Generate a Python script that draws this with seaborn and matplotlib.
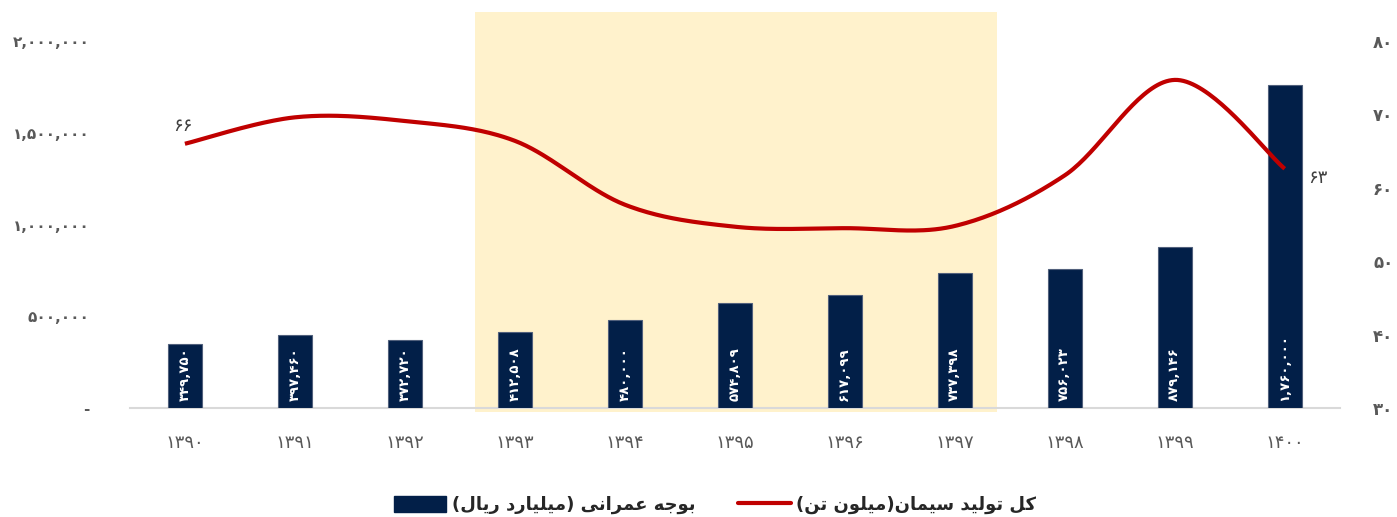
import numpy as np
import matplotlib.pyplot as plt
import seaborn as sns
from matplotlib.patches import Patch
from matplotlib.lines import Line2D

# -----------------------------
# DATA
# -----------------------------
years = ["1390", "1391", "1392", "1393", "1394", "1395", "1396", "1397", "1398", "1399", "1400"]
budget = [349750, 397460, 372720, 412508, 480000, 574809, 617099, 737398, 756023, 879146, 1760000]
cement = [66.0, 69.6, 69.1, 66.4, 57.7, 54.7, 54.5, 54.8, 61.7, 74.7, 62.6]
left_ticks = [0, 500000, 1000000, 1500000, 2000000]
right_ticks = [30, 40, 50, 60, 70, 80]
budget_label = "بوجه عمرانی (میلیارد ریال)"
cement_label = "کل تولید سیمان(میلون تن)"

NAVY = "#021f48"
RED = "#c00000"
SHADE = "#fff2cc"
GRAY = "#595959"

FA_DIGITS = str.maketrans("0123456789", "۰۱۲۳۴۵۶۷۸۹")


def fa_num(v):
    return f"{v:,}".translate(FA_DIGITS)


# simple persian shaping (matplotlib has no RTL / joining support)
# letter: (isolated, final, initial, medial) ; two entries -> joins only to the right
FORMS = {
    "ا": ("\uFE8D", "\uFE8E"), "د": ("\uFEA9", "\uFEAA"), "ر": ("\uFEAD", "\uFEAE"),
    "و": ("\uFEED", "\uFEEE"),
    "ب": ("\uFE8F", "\uFE90", "\uFE91", "\uFE92"), "ت": ("\uFE95", "\uFE96", "\uFE97", "\uFE98"),
    "ج": ("\uFE9D", "\uFE9E", "\uFE9F", "\uFEA0"), "س": ("\uFEB1", "\uFEB2", "\uFEB3", "\uFEB4"),
    "ع": ("\uFEC9", "\uFECA", "\uFECB", "\uFECC"), "ل": ("\uFEDD", "\uFEDE", "\uFEDF", "\uFEE0"),
    "م": ("\uFEE1", "\uFEE2", "\uFEE3", "\uFEE4"), "ن": ("\uFEE5", "\uFEE6", "\uFEE7", "\uFEE8"),
    "ه": ("\uFEE9", "\uFEEA", "\uFEEB", "\uFEEC"), "ی": ("\uFBFC", "\uFBFD", "\uFBFE", "\uFBFF"),
    "ک": ("\uFB8E", "\uFB8F", "\uFB90", "\uFB91"),
}


def shape(text):
    out = []
    for i, ch in enumerate(text):
        if ch not in FORMS:
            out.append(ch)
            continue
        prev = text[i - 1] if i > 0 else ""
        nxt = text[i + 1] if i + 1 < len(text) else ""
        join_prev = prev in FORMS and len(FORMS[prev]) == 4
        join_next = len(FORMS[ch]) == 4 and nxt in FORMS
        f = FORMS[ch]
        if join_prev and join_next:
            out.append(f[3])
        elif join_prev:
            out.append(f[1])
        elif join_next:
            out.append(f[2])
        else:
            out.append(f[0])
    vis = "".join(reversed(out))
    return vis.translate(str.maketrans("()", ")("))


def smooth(xs, ys, n=40):
    # catmull-rom curve through the points (like excel's smoothed line)
    px = np.r_[xs[0], xs, xs[-1]]
    py = np.r_[ys[0], ys, ys[-1]]
    cx, cy = [], []
    t = np.linspace(0, 1, n)
    for i in range(1, len(px) - 2):
        for p, c in ((px, cx), (py, cy)):
            p0, p1, p2, p3 = p[i - 1], p[i], p[i + 1], p[i + 2]
            c.extend(0.5 * (2 * p1 + (-p0 + p2) * t + (2 * p0 - 5 * p1 + 4 * p2 - p3) * t ** 2
                            + (-p0 + 3 * p1 - 3 * p2 + p3) * t ** 3))
    return np.array(cx), np.array(cy)


# -----------------------------
# PLOT
# -----------------------------
sns.set_style("white")
plt.rcParams["font.family"] = ["DejaVu Sans"]

fig = plt.figure(figsize=(13.97, 5.17), dpi=100)
ax = fig.add_axes([0.093, 0.2108, 0.866, 0.7099])

sns.barplot(x=years, y=budget, color=NAVY, width=0.31, saturation=1,
            edgecolor="#51607c", linewidth=0.8, ax=ax, zorder=3)

span = ax.axvspan(2.64, 7.38, ymin=-0.01, ymax=1.079, color=SHADE, zorder=0, lw=0)
span.set_clip_on(False)

ax.set_xlim(-0.5, 10.5)
ax.set_ylim(0, 2000000)
ax.set_yticks(left_ticks)
ax.set_yticklabels(["-" if v == 0 else fa_num(v) for v in left_ticks],
                   fontsize=11, fontweight="bold", color=GRAY)
ax.set_xticks(range(len(years)))
ax.set_xticklabels([y.translate(FA_DIGITS) for y in years], fontsize=13, color=GRAY)
ax.tick_params(axis="y", length=0, pad=29)
ax.tick_params(axis="x", length=0, pad=19)
ax.set_xlabel("")
ax.set_ylabel("")
for s in ["top", "left", "right"]:
    ax.spines[s].set_visible(False)
ax.spines["bottom"].set_color("#d9d9d9")
ax.spines["bottom"].set_linewidth(1.5)

# labels inside bars
for i, v in enumerate(budget):
    ax.text(i, 40000, fa_num(v), rotation=90, ha="center", va="bottom",
            color="white", fontsize=9.5, fontweight="bold", zorder=4)

# cement production line
ax2 = ax.twinx()
xs, ys = smooth(np.arange(len(cement), dtype=float), np.array(cement))
ax2.plot(xs, ys, color=RED, lw=3, solid_capstyle="butt", zorder=5)
ax2.set_ylim(30, 80)
ax2.set_yticks(right_ticks)
ax2.set_yticklabels([str(v).translate(FA_DIGITS) for v in right_ticks],
                    fontsize=12, fontweight="bold", color=GRAY)
ax2.tick_params(axis="y", length=0, pad=24)
for s in ax2.spines.values():
    s.set_visible(False)

ax2.annotate(str(round(cement[0])).translate(FA_DIGITS), (0, cement[0]),
             xytext=(-1.5, 13), textcoords="offset points", ha="center", va="center",
             fontsize=13, color="#404040")
ax2.annotate(str(round(cement[-1])).translate(FA_DIGITS), (10, cement[-1]),
             xytext=(24, -6.5), textcoords="offset points", ha="center", va="center",
             fontsize=13, color="#404040")

# legend
handles = [Patch(facecolor=NAVY, edgecolor=NAVY),
           Line2D([0], [0], color=RED, lw=3)]
fig.legend(handles, [shape(budget_label), shape(cement_label)],
           loc="center", bbox_to_anchor=(715 / 1397, 1 - 505 / 517), ncol=2,
           frameon=False, prop={"size": 13, "weight": "bold"}, labelcolor="#262626",
           handlelength=2.9, handleheight=1.0, handletextpad=0.3, columnspacing=2.4)

plt.savefig("out.png", dpi=100)
plt.close()
